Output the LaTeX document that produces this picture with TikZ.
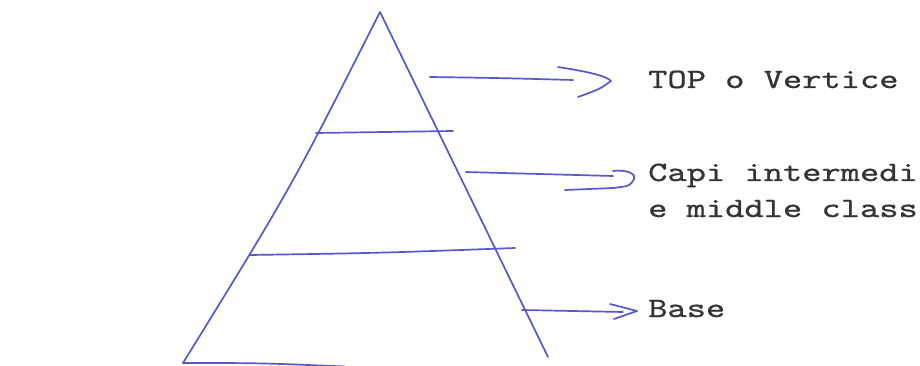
\documentclass[tikz,border=0pt]{standalone}
\usepackage{fontspec}
\usetikzlibrary{calc}
\newfontfamily\twfont{lmmono10-regular.otf}[FakeBold=0.8, FakeStretch=1.31]
\definecolor{ink}{RGB}{86,88,208}
\definecolor{txtc}{RGB}{52,52,52}
\tikzset{
  lbl/.style={anchor=base west, inner sep=0pt, text=txtc, font=\twfont\fontsize{28}{28}\selectfont},
  pen/.style={draw=ink, line width=1.7pt, line cap=round, line join=round},
}
\begin{document}
\begin{tikzpicture}[x=1pt,y=-1pt]
\useasboundingbox (0,0) rectangle (920,366);
\fill[white] (0,0) rectangle (920,366);
\clip (0,0) rectangle (920,366);
% pyramid
\coordinate (apex) at (380,12);
\coordinate (bl) at (183,363);
\coordinate (br) at (548,357);
\draw[pen] (bl) .. controls (291,188) .. (apex) -- (br);
\draw[pen] (bl) .. controls (260,363) .. (345,366.5);
\draw[pen] (316,133) -- (453,131);
\draw[pen] (250,255) .. controls (380,253) .. (515,248);
% labels
\node[lbl] (top) at (648,88) {TOP o Vertice};
\node[lbl] (capi) at (648,181) {Capi intermedi};
\node[lbl] (mid) at (648,217) {e middle class};
\node[lbl] (base) at (648,317) {Base};
% arrows
\coordinate (t0) at (430,77);
\coordinate (ttip) at ($(top.base west)+(-37,-7)$);
\draw[pen] (t0) .. controls (500,78) .. (573,80);
\draw[pen] (558,67) .. controls (590,72) and (606,76) .. (ttip) .. controls (600,89) .. (578,97);
\coordinate (c0) at (466,172);
\coordinate (ctip) at ($(capi.base west)+(-14,-2)$);
\draw[pen] (c0) .. controls (540,174) .. (613,176);
\draw[pen] (613,171) .. controls (628,169) and (637,175) .. (ctip) .. controls (630,186) .. (613,188) -- (565,190);
\coordinate (b0) at (522,310);
\coordinate (btip) at ($(base.base west)+(-11,-6)$);
\draw[pen] (b0) -- (623,312);
\draw[pen] (610,304) -- (btip) -- (614,319);
\end{tikzpicture}
\end{document}
